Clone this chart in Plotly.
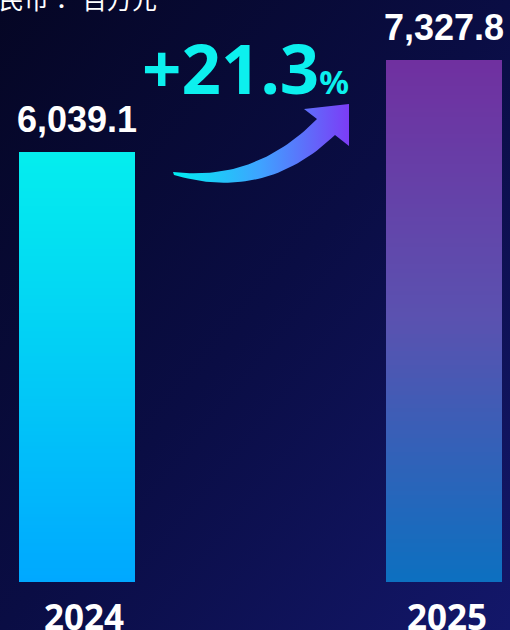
import base64
import numpy as np
import plotly.graph_objects as go

# ---- data ----
years = ["2024", "2025"]
values = [6039.1, 7327.8]
growth_label = "+21.3"
unit_label_a = "人民币："
unit_label_b = "百万元"

# ---- styles ----
bar_top_colors = ["#04eeee", "#7030a0"]
bar_mid_colors = ["#02ccf6", "#5a52b0"]
bar_bot_colors = ["#00a8ff", "#0c70c0"]
year_xshift = [7, 3]
N_SLICES = 120
BAR_W = 0.316

W, H = 510, 630
B_MARGIN = 48
PLOT_H = H - B_MARGIN
Y_MAX = 7327.8 / 522 * PLOT_H


def hex2rgb(h):
    h = h.lstrip("#")
    return np.array([int(h[i:i + 2], 16) for i in (0, 2, 4)], dtype=float)


def lerp3(c_bot, c_mid, c_top, t):
    a, m, b = hex2rgb(c_bot), hex2rgb(c_mid), hex2rgb(c_top)
    if t < 0.5:
        c = a + (m - a) * (t / 0.5)
    else:
        c = m + (b - m) * ((t - 0.5) / 0.5)
    return "rgb(%d,%d,%d)" % tuple(np.round(c))


xs, bases, hs, cols = [], [], [], []
for i, (yr, v) in enumerate(zip(years, values)):
    for k in range(N_SLICES):
        b0 = v * k / N_SLICES
        b1 = v * (k + 1) / N_SLICES
        xs.append(yr)
        bases.append(b0)
        hs.append(b1 - b0)
        cols.append(lerp3(bar_bot_colors[i], bar_mid_colors[i], bar_top_colors[i], (k + 0.5) / N_SLICES))

fig = go.Figure()
fig.add_trace(go.Bar(
    x=xs, y=hs, base=bases, width=BAR_W,
    marker=dict(color=cols, line=dict(width=0)),
    hoverinfo="skip", showlegend=False,
))

# ---- curved gradient arrow (decoration, in pixel space of the plot area) ----
def qbez(p0, c, p1, n=40):
    t = np.linspace(0, 1, n)
    x = (1 - t) ** 2 * p0[0] + 2 * (1 - t) * t * c[0] + t ** 2 * p1[0]
    y = (1 - t) ** 2 * p0[1] + 2 * (1 - t) * t * c[1] + t ** 2 * p1[1]
    return list(x), list(y)

ux, uy = qbez((173, 172), (255, 182), (317, 119))
lx, ly = qbez((335, 135), (265, 202), (174, 175))
ax_ = ux + [304, 349, 349] + lx + [ux[0]]
ay_ = uy + [109, 104, 146] + ly + [uy[0]]
fig.add_trace(go.Scatter(
    x=ax_, y=ay_, xaxis="x2", yaxis="y2", mode="lines",
    line=dict(width=0), fill="toself",
    fillgradient=dict(type="horizontal",
                      colorscale=[[0, "#00eef2"], [0.5, "#3fa2ff"], [1, "#7c3cf6"]]),
    hoverinfo="skip", showlegend=False,
))

annotations = []
for i, v in enumerate(values):
    annotations.append(dict(
        x=i, y=v, xref="x", yref="y", text=f"{v:,.1f}", showarrow=False,
        xanchor="center", yanchor="bottom", yshift=10,
        font=dict(family="Liberation Sans, Arial", size=36, color="white", weight="bold"),
    ))
for i, yr in enumerate(years):
    annotations.append(dict(
        x=i, y=0, xref="x", yref="paper", text=yr, showarrow=False,
        xanchor="center", yanchor="top", yshift=-9, xshift=year_xshift[i],
        font=dict(family="Noto Sans", size=35, color="white", weight="bold"),
    ))
annotations.append(dict(
    x=140, y=116, xref="x2", yref="y2", xanchor="left", yanchor="bottom",
    text=growth_label + "<span style='font-size:33px'>%</span>", showarrow=False,
    font=dict(family="Noto Sans", size=69, color="#0cf0ee", weight="bold"),
))
annotations.append(dict(
    x=76, y=18, xref="x2", yref="y2", xanchor="right", yanchor="bottom",
    text=unit_label_a, showarrow=False,
    font=dict(family="Noto Sans CJK TC", size=25, color="white"),
))
annotations.append(dict(
    x=159, y=18, xref="x2", yref="y2", xanchor="right", yanchor="bottom",
    text=unit_label_b, showarrow=False,
    font=dict(family="Noto Sans CJK SC", size=25, color="white"),
))

svg = (
    f"<svg xmlns='http://www.w3.org/2000/svg' width='{W}' height='{H}'>"
    "<defs><linearGradient id='g' x1='0' y1='0' x2='1' y2='1'>"
    "<stop offset='0' stop-color='#050624'/>"
    "<stop offset='0.5' stop-color='#0a0d44'/>"
    "<stop offset='1' stop-color='#13176a'/>"
    "</linearGradient></defs>"
    f"<rect width='{W}' height='{H}' fill='url(#g)'/></svg>"
)
src = "data:image/svg+xml;base64," + base64.b64encode(svg.encode()).decode()

fig.update_layout(
    width=W, height=H,
    margin=dict(l=0, r=0, t=0, b=B_MARGIN),
    paper_bgcolor="#0b0e45",
    plot_bgcolor="rgba(0,0,0,0)",
    barmode="overlay",
    bargap=0,
    showlegend=False,
    annotations=annotations,
    images=[dict(source=src, xref="paper", yref="paper", x=0, y=1,
                 sizex=1, sizey=H / PLOT_H, sizing="stretch", layer="below",
                 xanchor="left", yanchor="top")],
    xaxis=dict(
        type="category", categoryorder="array", categoryarray=years,
        range=[-77 / 367, (W - 77) / 367],
        showgrid=False, zeroline=False, showline=False, ticks="",
        showticklabels=False, fixedrange=True, automargin=False,
    ),
    yaxis=dict(range=[0, Y_MAX], visible=False, fixedrange=True, automargin=False),
    xaxis2=dict(overlaying="x", range=[0, W], visible=False, fixedrange=True),
    yaxis2=dict(overlaying="y", range=[PLOT_H, 0], visible=False, fixedrange=True),
)

fig.write_html(
    "out.html",
    config={"displayModeBar": False},
    post_script="document.body.style.margin='0';document.body.style.overflow='hidden';",
)
